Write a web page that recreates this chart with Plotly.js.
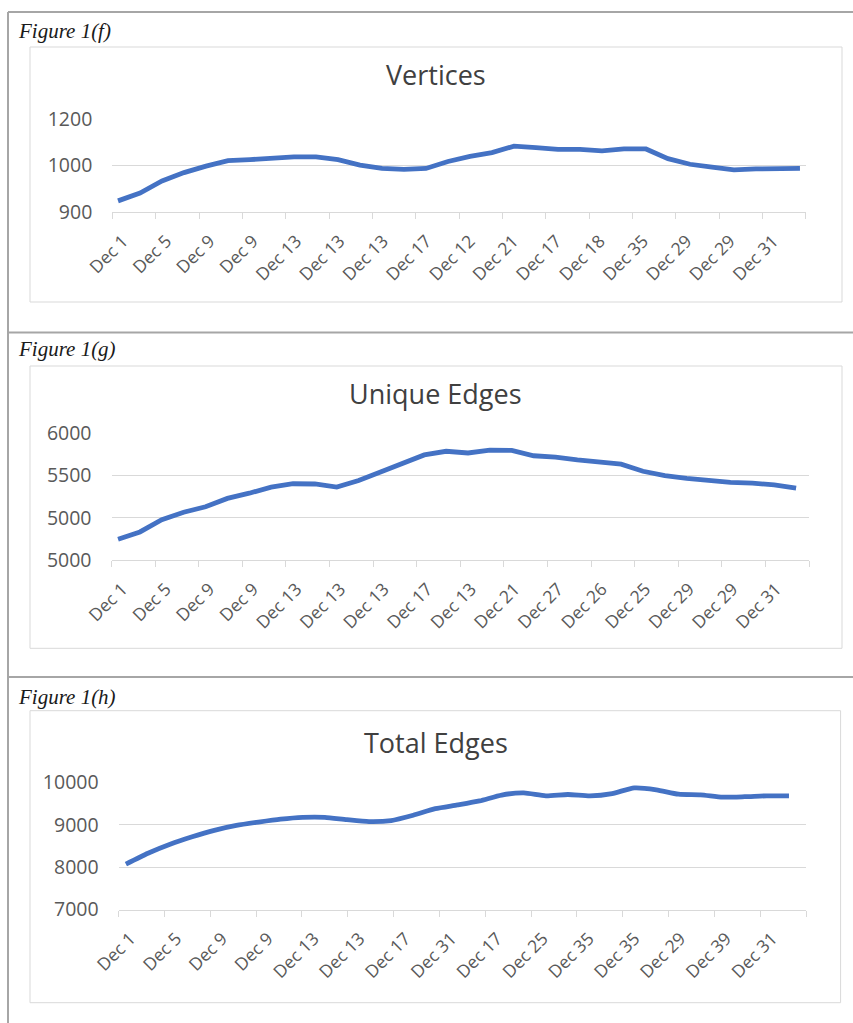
<!DOCTYPE html>
<html>
<head>
<meta charset="utf-8">
<script src="https://cdn.plot.ly/plotly-3.0.1.min.js"></script>
<style>
  html, body { margin: 0; padding: 0; background: #ffffff; }
  #chart { width: 853px; height: 1023px; }
</style>
</head>
<body>
<div id="chart"></div>
<script>
// ---------------- DATA ----------------
const figureLabels = ["Figure 1(f)", "Figure 1(g)", "Figure 1(h)"];
const chartTitles = ["Vertices", "Unique Edges", "Total Edges"];

const verticesTickLabels = ["Dec 1","Dec 5","Dec 9","Dec 9","Dec 13","Dec 13","Dec 13","Dec 17",
  "Dec 12","Dec 21","Dec 17","Dec 18","Dec 35","Dec 29","Dec 29","Dec 31"];
const verticesValues = [924, 941, 967, 985, 999, 1011, 1013, 1017, 1019, 1019, 1013, 1001,
  994, 992, 994, 1009, 1020, 1028, 1042, 1039, 1035, 1035, 1032, 1036, 1036, 1015, 1003,
  997, 991, 993, 994, 994];
const verticesYTickVals = [900, 1000, 1100];
const verticesYTickText = ["900", "1000", "1200"];

const uniqueTickLabels = ["Dec 1","Dec 5","Dec 9","Dec 9","Dec 13","Dec 13","Dec 13","Dec 17",
  "Dec 13","Dec 21","Dec 27","Dec 26","Dec 25","Dec 29","Dec 29","Dec 31"];
const uniqueValues = [4746, 4832, 4977, 5066, 5130, 5229, 5291, 5362, 5403, 5400, 5363, 5441,
  5543, 5650, 5744, 5787, 5767, 5800, 5797, 5734, 5718, 5685, 5664, 5634, 5551, 5498, 5467,
  5439, 5420, 5410, 5390, 5352];
const uniqueYTickVals = [4500, 5000, 5500, 6000];
const uniqueYTickText = ["5000", "5000", "5500", "6000"];

const totalTickLabels = ["Dec 1","Dec 5","Dec 9","Dec 9","Dec 13","Dec 13","Dec 17","Dec 31",
  "Dec 17","Dec 25","Dec 35","Dec 35","Dec 29","Dec 39","Dec 31"];
const totalValues = [8073, 8330, 8543, 8719, 8870, 8985, 9065, 9135, 9177, 9177, 9121, 9077,
  9102, 9227, 9382, 9469, 9565, 9704, 9753, 9683, 9716, 9683, 9737, 9873, 9828, 9725, 9708,
  9654, 9664, 9685, 9685];
const totalYTickVals = [7000, 8000, 9000, 10000];
const totalYTickText = ["7000", "8000", "9000", "10000"];

// ---------------- LAYOUT HELPERS ----------------
const W = 853, H = 1023;
const px = p => p / W;
const py = p => 1 - p / H;

const LINE_COLOR = "#4472c4";
const GRID = "#d9d9d9";
const TICKFONT = { family: "Open Sans, sans-serif", size: 19.5, color: "#595959" };
const XTICKFONT = { family: "Open Sans, sans-serif", size: 17.5, color: "#595959" };

const panels = [
  { labels: verticesTickLabels, values: verticesValues, yv: verticesYTickVals, yt: verticesYTickText,
    yr: [900, 1100], x0: 112.3, x1: 805.9, yTop: 119.3, yBot: 212, dr: [-0.26, 31.27],
    box: [30, 47, 842, 302], figY: 31, titleY: 74 },
  { labels: uniqueTickLabels, values: uniqueValues, yv: uniqueYTickVals, yt: uniqueYTickText,
    yr: [4500, 6000], x0: 111.5, x1: 809, yTop: 433.3, yBot: 560, dr: [-0.30, 31.59],
    box: [30, 366, 842, 648.3], figY: 349, titleY: 393.5 },
  { labels: totalTickLabels, values: totalValues, yv: totalYTickVals, yt: totalYTickText,
    yr: [7000, 10000], x0: 118.6, x1: 806, yTop: 782.5, yBot: 909.5, dr: [-0.33, 30.77],
    box: [30, 710.7, 840.6, 1002.7], figY: 696.5, titleY: 742 }
];

const data = [];
const layout = {
  width: W, height: H,
  margin: { l: 0, r: 0, t: 0, b: 0 },
  paper_bgcolor: "#ffffff", plot_bgcolor: "rgba(0,0,0,0)",
  showlegend: false,
  shapes: [], annotations: []
};

panels.forEach((p, k) => {
  const labAx = 2 * k + 1, datAx = 2 * k + 2, yAx = k + 1;
  const labName = "xaxis" + (labAx === 1 ? "" : labAx);
  const datName = "xaxis" + datAx;
  const yName = "yaxis" + (yAx === 1 ? "" : yAx);
  const yRef = "y" + (yAx === 1 ? "" : yAx);
  const labRef = "x" + (labAx === 1 ? "" : labAx);
  const n = p.labels.length;
  const centers = p.labels.map((_, i) => i + 0.5);
  const bounds = Array.from({ length: n + 1 }, (_, i) => i);
  const dom = [px(p.x0), px(p.x1)];

  layout[labName] = {
    domain: dom, anchor: yRef, range: [0, n],
    tickmode: "array", tickvals: centers, ticktext: p.labels, tickangle: -45,
    ticks: "", showgrid: false, zeroline: false, showline: true, linecolor: GRID, linewidth: 1,
    tickfont: XTICKFONT, ticklabelstandoff: 11, ticklabelshift: -11,
    minor: { tickmode: "array", tickvals: bounds, ticks: "outside", ticklen: 6,
             tickcolor: GRID, tickwidth: 1, showgrid: false },
    fixedrange: true
  };
  layout[datName] = {
    domain: dom, overlaying: labRef, anchor: yRef, range: p.dr, visible: false, fixedrange: true
  };
  layout[yName] = {
    domain: [py(p.yBot), py(p.yTop)], anchor: labRef, range: p.yr,
    tickmode: "array", tickvals: p.yv, ticktext: p.yt,
    showgrid: true, gridcolor: GRID, gridwidth: 1, zeroline: false, showline: false,
    ticks: "", tickfont: TICKFONT, ticklabelstandoff: 19, fixedrange: true
  };

  data.push({ type: "scatter", mode: "lines", x: [], y: [], xaxis: labRef, yaxis: yRef,
    hoverinfo: "skip" });

  data.push({
    type: "scatter", mode: "lines",
    x: p.values.map((_, i) => i), y: p.values,
    xaxis: "x" + datAx, yaxis: yRef,
    line: { color: LINE_COLOR, width: 4.8, shape: k === 2 ? "spline" : "linear", smoothing: 0.6 },
    hoverinfo: "skip", cliponaxis: false
  });

  layout.shapes.push({
    type: "rect", xref: "paper", yref: "paper",
    x0: px(p.box[0]), x1: px(p.box[2]), y0: py(p.box[3]), y1: py(p.box[1]),
    line: { color: GRID, width: 1 }, fillcolor: "rgba(0,0,0,0)", layer: "below"
  });

  layout.annotations.push({
    xref: "paper", yref: "paper", x: px(16), y: py(p.figY), xanchor: "left", yanchor: "middle",
    text: figureLabels[k], showarrow: false,
    font: { family: "Liberation Serif, Times New Roman, serif", size: 21, color: "#1a1a1a", style: "italic" }
  });
  layout.annotations.push({
    xref: "paper", yref: "paper", x: px(435.5), y: py(p.titleY), xanchor: "center", yanchor: "middle",
    text: chartTitles[k], showarrow: false,
    font: { family: "Open Sans, sans-serif", size: 27, color: "#404040" }
  });
});

const frameColor = "#a6a6a6";
[12, 332.5, 677].forEach(yy => {
  layout.shapes.push({ type: "line", xref: "paper", yref: "paper",
    x0: px(8), x1: 1, y0: py(yy), y1: py(yy), line: { color: frameColor, width: 2 } });
});
layout.shapes.push({ type: "line", xref: "paper", yref: "paper",
  x0: px(8), x1: px(8), y0: py(12), y1: 0, line: { color: frameColor, width: 2 } });

Plotly.newPlot("chart", data, layout, { staticPlot: true, displayModeBar: false });
</script>
</body>
</html>
